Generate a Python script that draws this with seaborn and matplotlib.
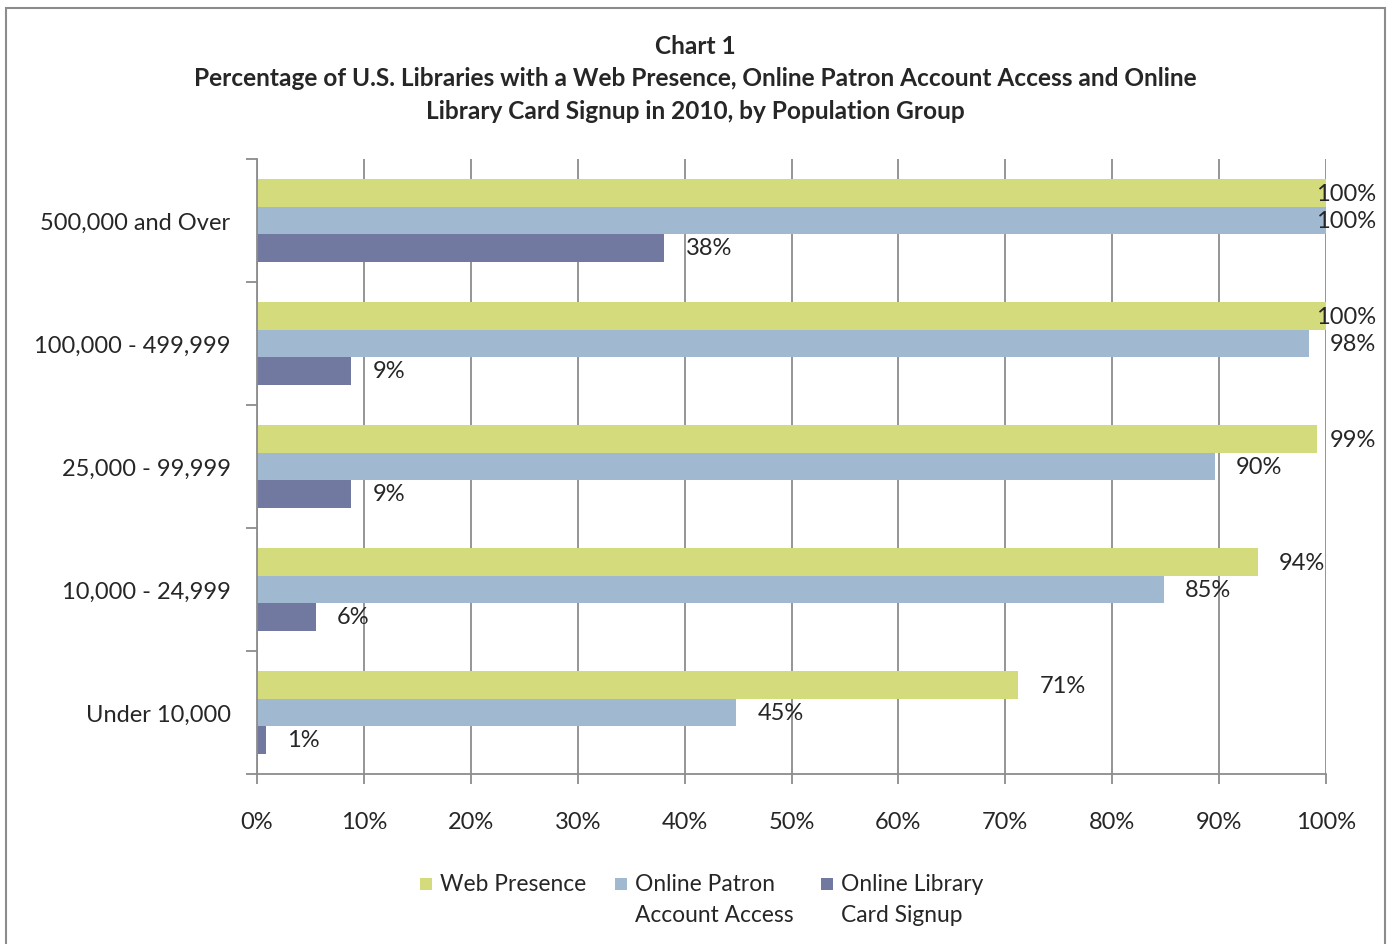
import numpy as np
import pandas as pd
import matplotlib
matplotlib.use('Agg')
import matplotlib.pyplot as plt
import seaborn as sns
from matplotlib.patches import Rectangle
from matplotlib.ticker import FixedLocator, PercentFormatter

# ===================== data =====================
groups = ['500,000 and Over', '100,000 - 499,999', '25,000 - 99,999',
          '10,000 - 24,999', 'Under 10,000']
series = ['Web Presence', 'Online Patron Account Access', 'Online Library Card Signup']
legend_labels = ['Web Presence', 'Online Patron\nAccount Access', 'Online Library\nCard Signup']

web_presence = [100.0, 100.0, 99.2, 93.6, 71.2]
patron_access = [100.0, 98.4, 89.6, 84.8, 44.8]
card_signup = [38.1, 8.8, 8.8, 5.5, 0.8]

web_labels = ['100%', '100%', '99%', '94%', '71%']
patron_labels = ['100%', '98%', '90%', '85%', '45%']
card_labels = ['38%', '9%', '9%', '6%', '1%']

colors = ['#D4DB7C', '#A0B8D0', '#7179A1']

# long form table for seaborn
df = pd.DataFrame({
    'group': groups * 3,
    'series': [series[0]] * 5 + [series[1]] * 5 + [series[2]] * 5,
    'value': web_presence + patron_access + card_signup,
})

# ===================== figure =====================
sns.set_style('white')
plt.rcParams['font.family'] = ['Lato', 'DejaVu Sans']
FS = 17

fig = plt.figure(figsize=(13.93, 9.45), dpi=100)
W, H = 1393, 945
ax = fig.add_axes([257 / W, 1 - 775 / H, (1326 - 257) / W, (775 - 160) / H])

sns.barplot(data=df, y='group', x='value', hue='series', order=groups,
            hue_order=series, palette=colors, orient='h', width=0.67,
            saturation=1, ax=ax, legend=False, edgecolor='none')

ax.set_xlim(0, 100)
ax.set_ylim(4.5, -0.5)
ax.set_xlabel('')
ax.set_ylabel('')

# gridlines & spines
ax.xaxis.set_major_locator(FixedLocator(np.arange(0, 101, 10)))
ax.xaxis.set_major_formatter(PercentFormatter(decimals=0))
ax.grid(axis='x', color='#8C8C8C', linewidth=1.3)
ax.grid(axis='y', visible=False)
ax.set_axisbelow(True)
for side in ['top', 'right']:
    ax.spines[side].set_visible(False)
for side in ['left', 'bottom']:
    ax.spines[side].set_color('#8C8C8C')
    ax.spines[side].set_linewidth(1.3)

ax.tick_params(axis='x', which='major', length=7, width=1.3, color='#8C8C8C',
               labelsize=FS, pad=20, direction='out', bottom=True)
ax.tick_params(axis='y', which='major', length=0, labelsize=FS, pad=19)
ax.yaxis.set_minor_locator(FixedLocator(np.arange(-0.5, 5, 1)))
ax.tick_params(axis='y', which='minor', length=8, width=1.3, color='#8C8C8C',
               direction='out', left=True)

# data labels
for cont, labs in zip(ax.containers, [web_labels, patron_labels, card_labels]):
    for bar, lab in zip(cont, labs):
        v = bar.get_width()
        yc = bar.get_y() + bar.get_height() / 2
        if v > 96:
            ax.text(104.7, yc, lab, ha='right', va='center', fontsize=FS, clip_on=False)
        else:
            ax.text(v + 2.0, yc, lab, ha='left', va='center', fontsize=FS, clip_on=False)

# title
title_lines = ['Chart 1',
               'Percentage of U.S. Libraries with a Web Presence, Online Patron Account Access and Online',
               'Library Card Signup in 2010, by Population Group']
for i, line in enumerate(title_lines):
    fig.text(695 / W, 1 - (46 + 33 * i) / H, line, ha='center', va='center',
             fontsize=17.6, fontweight='bold')

# legend (markers aligned with the first line of each entry)
legend_x = [420, 615, 821]
for x0, c, lab in zip(legend_x, colors, legend_labels):
    fig.patches.append(Rectangle((x0 / W, 1 - 891 / H), 12 / W, 12 / H,
                                 transform=fig.transFigure, facecolor=c, edgecolor='none'))
    for j, part in enumerate(lab.split('\n')):
        fig.text((x0 + 20) / W, 1 - (885 + 31 * j) / H, part, ha='left', va='center',
                 fontsize=16.4)

# outer chart border
fig.patches.append(Rectangle((6 / W, -0.02), (1385 - 6) / W, 1 - 9 / H + 0.02,
                             transform=fig.transFigure, fill=False,
                             edgecolor='#8C8C8C', linewidth=1.5))

fig.savefig('out.png', dpi=100)
